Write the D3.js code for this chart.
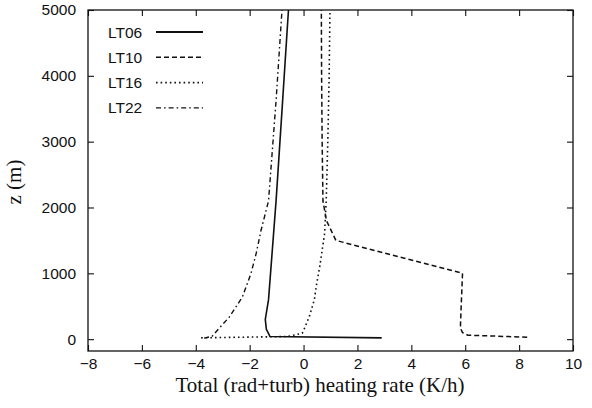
<!DOCTYPE html>
<html>
<head>
<meta charset="utf-8">
<script src="https://cdn.jsdelivr.net/npm/d3@7"></script>
<style>
  body { margin: 0; background: #fff; }
  svg { display: block; }
</style>
</head>
<body>
<div id="chart"></div>
<script>
const width = 592;
const height = 408;
const margin = { top: 10, right: 19, bottom: 57, left: 88 };

// heating rate profiles (K/h) against height z (m)
const seriesNames = ["LT06", "LT10", "LT16", "LT22"];

const lt06Z = [20, 40, 60, 150, 300, 600, 2100, 3600, 5000];
const lt06X = [2.9, -1.25, -1.27, -1.38, -1.42, -1.3, -1.02, -0.78, -0.56];

const lt10Z = [30, 60, 100, 170, 500, 1000, 1500, 1800, 2100, 3000, 4000, 5000];
const lt10X = [8.3, 6.1, 5.9, 5.82, 5.85, 5.9, 1.2, 0.85, 0.72, 0.69, 0.67, 0.66];

const lt16Z = [20, 40, 90, 150, 350, 600, 850, 1100, 1600, 2100, 3000, 4000, 5000];
const lt16X = [-3.8, -0.6, -0.05, 0.02, 0.22, 0.4, 0.49, 0.6, 0.78, 0.84, 0.9, 0.95, 0.98];

const lt22Z = [15, 45, 167, 333, 640, 1000, 1300, 1650, 2100, 3620, 5000];
const lt22X = [-3.69, -3.39, -3.13, -2.76, -2.27, -1.95, -1.76, -1.58, -1.3, -1.02, -0.8];

const xTicks = [-8, -6, -4, -2, 0, 2, 4, 6, 8, 10];
const yTicks = [0, 1000, 2000, 3000, 4000, 5000];

const dashes = ["none", "5,3", "1.6,3", "5,3,1.6,3"];
const widths = [1.6, 1.5, 1.6, 1.4];

const series = [
    { name: "LT06", z: lt06Z, x: lt06X },
    { name: "LT10", z: lt10Z, x: lt10X },
    { name: "LT16", z: lt16Z, x: lt16X },
    { name: "LT22", z: lt22Z, x: lt22X }
];

const svg = d3.select("#chart").append("svg")
    .attr("width", width)
    .attr("height", height);

const x = d3.scaleLinear().domain([-8, 10]).range([margin.left, width - margin.right]);
const y = d3.scaleLinear().domain([-180, 5000]).range([height - margin.bottom, margin.top]);

const tickLen = 6;
const sans = "'Liberation Sans', Arial, sans-serif";
const serif = "'Liberation Serif', 'Times New Roman', serif";

// axes with inward ticks on all four sides
const axisBottom = d3.axisBottom(x).tickValues(xTicks).tickSize(-tickLen).tickPadding(7)
    .tickFormat(d => d < 0 ? "\u2212" + Math.abs(d) : d);
const axisTop = d3.axisTop(x).tickValues(xTicks).tickSize(-tickLen).tickFormat("");
const axisLeft = d3.axisLeft(y).tickValues(yTicks).tickSize(-tickLen).tickPadding(12)
    .tickFormat(d3.format("d"));
const axisRight = d3.axisRight(y).tickValues(yTicks).tickSize(-tickLen).tickFormat("");

function styleAxis(g) {
    g.select(".domain").remove();
    g.selectAll("line").attr("stroke", "#111").attr("stroke-width", 1.1);
    g.selectAll("text").attr("font-family", sans).attr("font-size", 15.5).attr("fill", "#111");
}

svg.append("g").attr("transform", `translate(0,${height - margin.bottom})`).call(axisBottom).call(styleAxis);
svg.append("g").attr("transform", `translate(0,${margin.top})`).call(axisTop).call(styleAxis);
svg.append("g").attr("transform", `translate(${margin.left},0)`).call(axisLeft).call(styleAxis);
svg.append("g").attr("transform", `translate(${width - margin.right},0)`).call(axisRight).call(styleAxis);

svg.append("rect")
    .attr("x", margin.left)
    .attr("y", margin.top)
    .attr("width", width - margin.left - margin.right)
    .attr("height", height - margin.top - margin.bottom)
    .attr("fill", "none")
    .attr("stroke", "#111")
    .attr("stroke-width", 1.3);

const line = d3.line()
    .x(d => x(d[0]))
    .y(d => y(d[1]));

series.forEach((s, i) => {
    const pts = s.x.map((v, k) => [v, s.z[k]]);
    svg.append("path")
        .datum(pts)
        .attr("d", line)
        .attr("fill", "none")
        .attr("stroke", "#111")
        .attr("stroke-width", widths[i])
        .attr("stroke-dasharray", dashes[i]);
});

// legend
const legend = svg.append("g");
seriesNames.forEach((name, i) => {
    const ly = 32 + i * 25.3;
    legend.append("text")
        .attr("x", 108)
        .attr("y", ly + 5.5)
        .attr("font-family", sans)
        .attr("font-size", 15.5)
        .attr("fill", "#111")
        .text(name);
    legend.append("line")
        .attr("x1", 156)
        .attr("x2", 203)
        .attr("y1", ly)
        .attr("y2", ly)
        .attr("stroke", "#111")
        .attr("stroke-width", i === 0 ? 2.2 : widths[i])
        .attr("stroke-dasharray", dashes[i]);
});

// axis titles
svg.append("text")
    .attr("x", 320)
    .attr("y", 392)
    .attr("text-anchor", "middle")
    .attr("font-family", serif)
    .attr("font-size", 21)
    .attr("fill", "#111")
    .text("Total (rad+turb) heating rate (K/h)");

svg.append("text")
    .attr("transform", `translate(21,182) rotate(-90)`)
    .attr("text-anchor", "middle")
    .attr("font-family", serif)
    .attr("font-size", 21)
    .attr("fill", "#111")
    .text("z (m)");
</script>
</body>
</html>
